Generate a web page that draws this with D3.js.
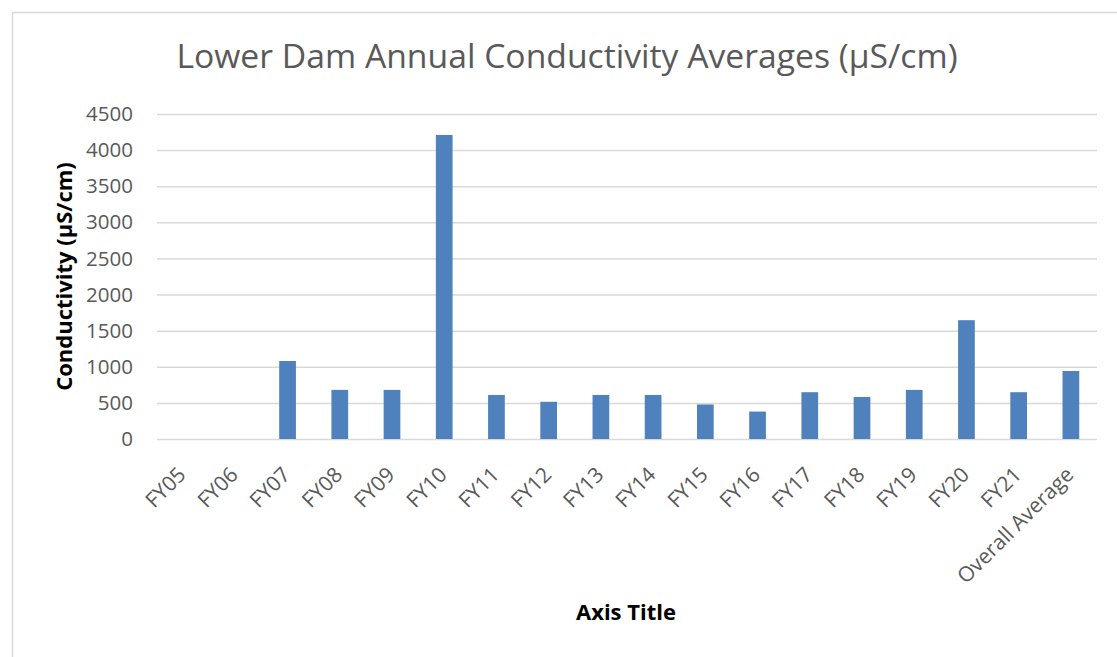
<!DOCTYPE html>
<html>
<head>
<meta charset="utf-8">
<script src="https://cdn.jsdelivr.net/npm/d3@7"></script>
<style>
  html, body { margin: 0; padding: 0; background: #fff; }
  svg { display: block; font-family: "Open Sans", Lato, sans-serif; }
</style>
</head>
<body>
<svg id="chart" width="1117" height="657"></svg>
<script>
// Annual average conductivity at the lower dam (µS/cm)
const categories = ["FY05", "FY06", "FY07", "FY08", "FY09", "FY10", "FY11", "FY12", "FY13",
  "FY14", "FY15", "FY16", "FY17", "FY18", "FY19", "FY20", "FY21", "Overall Average"];
const conductivity = [null, null, 1080, 680, 680, 4210, 610, 515, 610,
  610, 478, 380, 648, 582, 680, 1645, 648, 942];
const yTicks = [0, 500, 1000, 1500, 2000, 2500, 3000, 3500, 4000, 4500];

const titleText = "Lower Dam Annual Conductivity Averages (µS/cm)";
const yTitleText = "Conductivity (µS/cm)";
const xTitleText = "Axis Title";

const svg = d3.select("#chart");
const W = 1117, H = 657;
const plot = { left: 157, right: 1097, top: 114, bottom: 439 };

// chart frame
svg.append("rect")
  .attr("x", 12.5).attr("y", 12.5)
  .attr("width", W + 20).attr("height", H - 5)
  .attr("fill", "#fff").attr("stroke", "#d9d9d9").attr("stroke-width", 1.5);

const x = d3.scaleBand()
  .domain(categories)
  .range([plot.left, plot.right])
  .paddingInner(0.68).paddingOuter(0.34);

const y = d3.scaleLinear()
  .domain([0, 4500])
  .range([plot.bottom, plot.top]);

// horizontal gridlines
svg.append("g")
  .selectAll("line")
  .data(yTicks)
  .join("line")
  .attr("x1", plot.left).attr("x2", plot.right)
  .attr("y1", d => y(d) + 0.5).attr("y2", d => y(d) + 0.5)
  .attr("stroke", "#d9d9d9").attr("stroke-width", 1.5);

// y axis labels
const yAxis = d3.axisLeft(y).tickValues(yTicks).tickFormat(d3.format("d")).tickSize(0).tickPadding(0);
const yg = svg.append("g")
  .attr("transform", `translate(${plot.left - 24},0)`)
  .call(yAxis);
yg.select(".domain").remove();
yg.selectAll("text")
  .attr("fill", "#595959")
  .attr("font-size", 20.5)
  .attr("font-family", "'Open Sans', sans-serif");

// bars
svg.append("g")
  .selectAll("rect")
  .data(categories.map((c, i) => ({ c, v: conductivity[i] })).filter(d => d.v != null))
  .join("rect")
  .attr("x", d => x(d.c))
  .attr("y", d => y(d.v))
  .attr("width", x.bandwidth())
  .attr("height", d => y(0) - y(d.v))
  .attr("fill", "#4f81bd");

// x axis labels, rotated
const xAxis = d3.axisBottom(x).tickSize(0).tickPadding(0);
const xg = svg.append("g")
  .attr("transform", `translate(0,${plot.bottom})`)
  .call(xAxis);
xg.select(".domain").remove();
xg.selectAll("text")
  .attr("fill", "#595959")
  .attr("font-size", 21)
  .attr("font-family", "'Open Sans', sans-serif")
  .attr("text-anchor", "end")
  .attr("dy", null)
  .attr("y", 0)
  .attr("transform", "translate(4,37) rotate(-45)");

// titles
svg.append("text")
  .attr("x", 567).attr("y", 68)
  .attr("text-anchor", "middle")
  .attr("fill", "#595959")
  .attr("font-size", 33.7)
  .text(titleText);

svg.append("text")
  .attr("transform", `translate(72,${(plot.top + plot.bottom) / 2}) rotate(-90)`)
  .attr("text-anchor", "middle")
  .attr("fill", "#000")
  .attr("font-weight", "bold")
  .attr("font-size", 22)
  .text(yTitleText);

svg.append("text")
  .attr("x", 626).attr("y", 620)
  .attr("text-anchor", "middle")
  .attr("fill", "#000")
  .attr("font-weight", "bold")
  .attr("font-size", 22)
  .text(xTitleText);
</script>
</body>
</html>
